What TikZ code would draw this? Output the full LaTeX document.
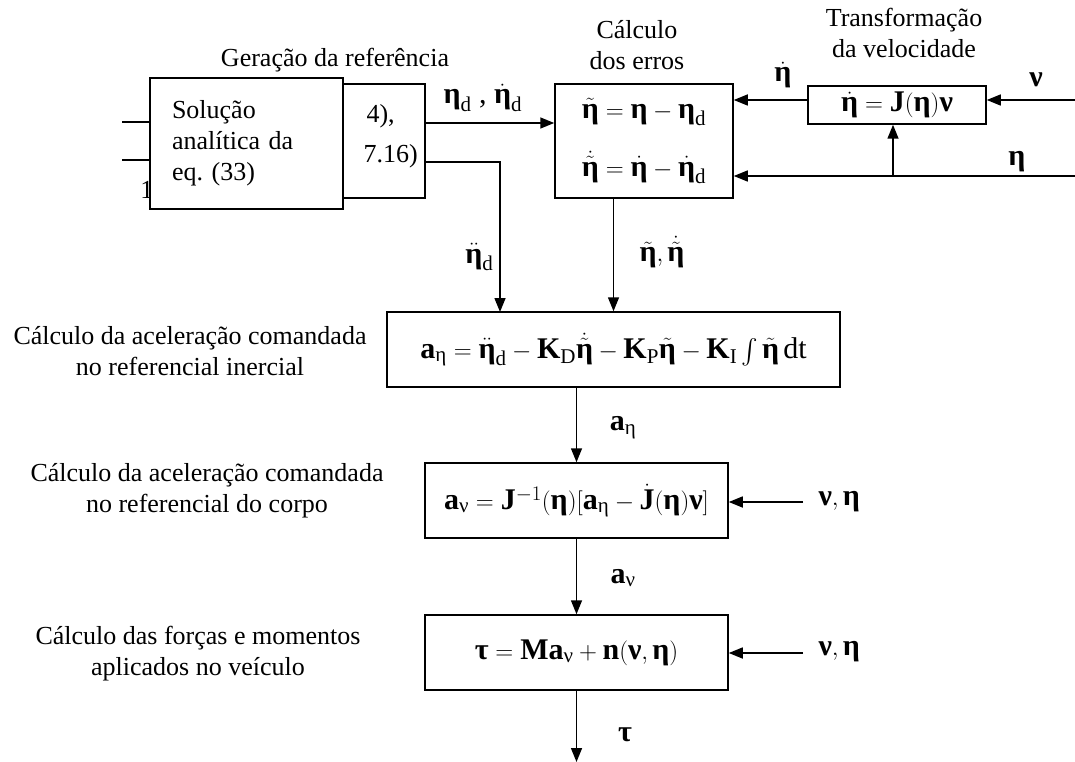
\documentclass[tikz,border=0pt]{standalone}
\usepackage{amsmath}
\usepackage{fontspec}
\setmainfont{Liberation Serif}
\usetikzlibrary{arrows.meta, positioning, calc}

\newcommand{\etab}{\text{\bfseries η}}
\newcommand{\nub}{\text{\bfseries ν}}
\newcommand{\taub}{\text{\bfseries τ}}

\begin{document}
\begin{tikzpicture}[
  x=1pt, y=-1pt,
  every node/.style={font=\fontsize{26}{31}\selectfont},
  eq/.style={font=\fontsize{30}{36}\selectfont},
  blk/.style={rectangle, draw, line width=1.5pt, fill=white, inner sep=0pt},
  note/.style={align=center, anchor=base},
  wire/.style={line width=1.5pt},
  arrow/.style={wire, -{Triangle[length=14pt,width=11pt]}}
]
  \useasboundingbox (0,0) rectangle (1075,762);

  % reference generation
  \node[note] (gentitle) at (335,67) {Geração da referência};
  \node[blk, minimum width=125pt, minimum height=114pt] (gen2) at (362.5,141) {};
  \node[anchor=base west] (gen2a) at (363,123) {4),};
  \node[anchor=base west] (gen2b) at (360,163) {7.16)};
  \node[anchor=base east] (cut) at (157,198) {1};
  \node[blk, minimum width=193pt, minimum height=131pt, text width=149pt, inner xsep=22pt, align=left] (gen1) at (246.5,143.5) {Solução\\analítica da\\eq.\ (33)};
  \coordinate (in1) at (122,122);
  \coordinate (in2) at (122,160);
  \draw[wire] (in1) -- (in1 -| gen1.west) (in2) -- (in2 -| gen1.west);

  % errors
  \node[note] (errtitle) at (637,70) {Cálculo\\dos erros};
  \node[blk, eq, minimum width=178pt, minimum height=114pt, align=center] (errs) at (644,141) {$\tilde{\etab} = \etab - \etab_{\mathrm{d}}$\\[22pt]$\dot{\tilde{\etab}} = \dot{\etab} - \dot{\etab}_{\mathrm{d}}$};

  % velocity transformation
  \node[note] (veltitle) at (904,58) {Transformação\\da velocidade};
  \node[blk, eq, minimum width=178pt, minimum height=38pt] (vel) at (897,105) {$\dot{\etab} = \mathbf{J}(\etab)\nub$};

  % control chain
  \node[blk, eq, minimum width=453pt, minimum height=75pt] (accI) at (613.5,349.5) {$\mathbf{a}_{\text{η}} = \ddot{\etab}_{\mathrm{d}} - \mathbf{K}_{\mathrm{D}}\dot{\tilde{\etab}} - \mathbf{K}_{\mathrm{P}}\tilde{\etab} - \mathbf{K}_{\mathrm{I}}\int\tilde{\etab}\,\mathrm{dt}$};
  \node[note] (accItxt) at (190,375) {Cálculo da aceleração comandada\\no referencial inercial};
  \node[blk, eq, minimum width=303pt, minimum height=75pt] (accB) at (576.5,500.5) {$\mathbf{a}_{\text{ν}} = \mathbf{J}^{-1}(\etab)[\mathbf{a}_{\text{η}} - \dot{\mathbf{J}}(\etab)\nub]$};
  \node[note] (accBtxt) at (207,512) {Cálculo da aceleração comandada\\no referencial do corpo};
  \node[blk, eq, minimum width=303pt, minimum height=75pt] (frc) at (576.5,652.5) {$\taub = \mathbf{M}\mathbf{a}_{\text{ν}} + \mathbf{n}(\nub, \etab)$};
  \node[note] (frctxt) at (198,675) {Cálculo das forças e momentos\\aplicados no veículo};

  % signals
  \coordinate (o1) at (425,123);
  \coordinate (o2) at (425,162);
  \coordinate (o2d) at (500,312);
  \draw[arrow] (o1) -- (o1 -| errs.west);
  \draw[arrow] (o2) -| (o2d);
  \node[eq, anchor=base west] (lbl1) at (440,104) {$\etab_{\mathrm{d}}$ , $\dot{\etab}_{\mathrm{d}}$};
  \node[eq, anchor=base east] (lbl2) at (497,263) {$\ddot{\etab}_{\mathrm{d}}$};

  \coordinate (nuin) at (1075,100);
  \coordinate (etain) at (1075,176);
  \coordinate (junc) at (893,176);
  \draw[arrow] (nuin) -- (nuin -| vel.east);
  \draw[arrow] (nuin -| vel.west) -- (nuin -| errs.east);
  \draw[arrow] (etain) -- (etain -| errs.east);
  \draw[arrow] (junc) -- (junc |- vel.south);
  \node[eq] (nulbl) at (1036,80) {$\nub$};
  \node[eq] (etadotlbl) at (783,75) {$\dot{\etab}$};
  \node[eq] (etalbl) at (1017,162) {$\etab$};

  \draw[arrow] (errs.south -| accI.north) -- (accI.north);
  \node[eq] (errlbl) at (662,252) {$\tilde{\etab}, \dot{\tilde{\etab}}$};

  \draw[arrow] (accI.south -| accB.north) -- (accB.north);
  \node[eq] (aeta) at (623,428) {$\mathbf{a}_{\text{η}}$};
  \draw[arrow] (accB.south) -- (frc.north);
  \node[eq] (anu) at (623,578) {$\mathbf{a}_{\text{ν}}$};
  \coordinate (tauout) at (576.5,762);
  \draw[arrow] (frc.south) -- (tauout);
  \node[eq] (taulbl) at (625,735) {$\taub$};

  \coordinate (vin1) at (803,502);
  \coordinate (vin2) at (803,653);
  \draw[arrow] (vin1) -- (vin1 -| accB.east);
  \draw[arrow] (vin2) -- (vin2 -| frc.east);
  \node[eq, anchor=west] (vlbl1) at (815,502) {$\nub, \etab$};
  \node[eq, anchor=west] (vlbl2) at (815,652) {$\nub, \etab$};
\end{tikzpicture}
\end{document}
